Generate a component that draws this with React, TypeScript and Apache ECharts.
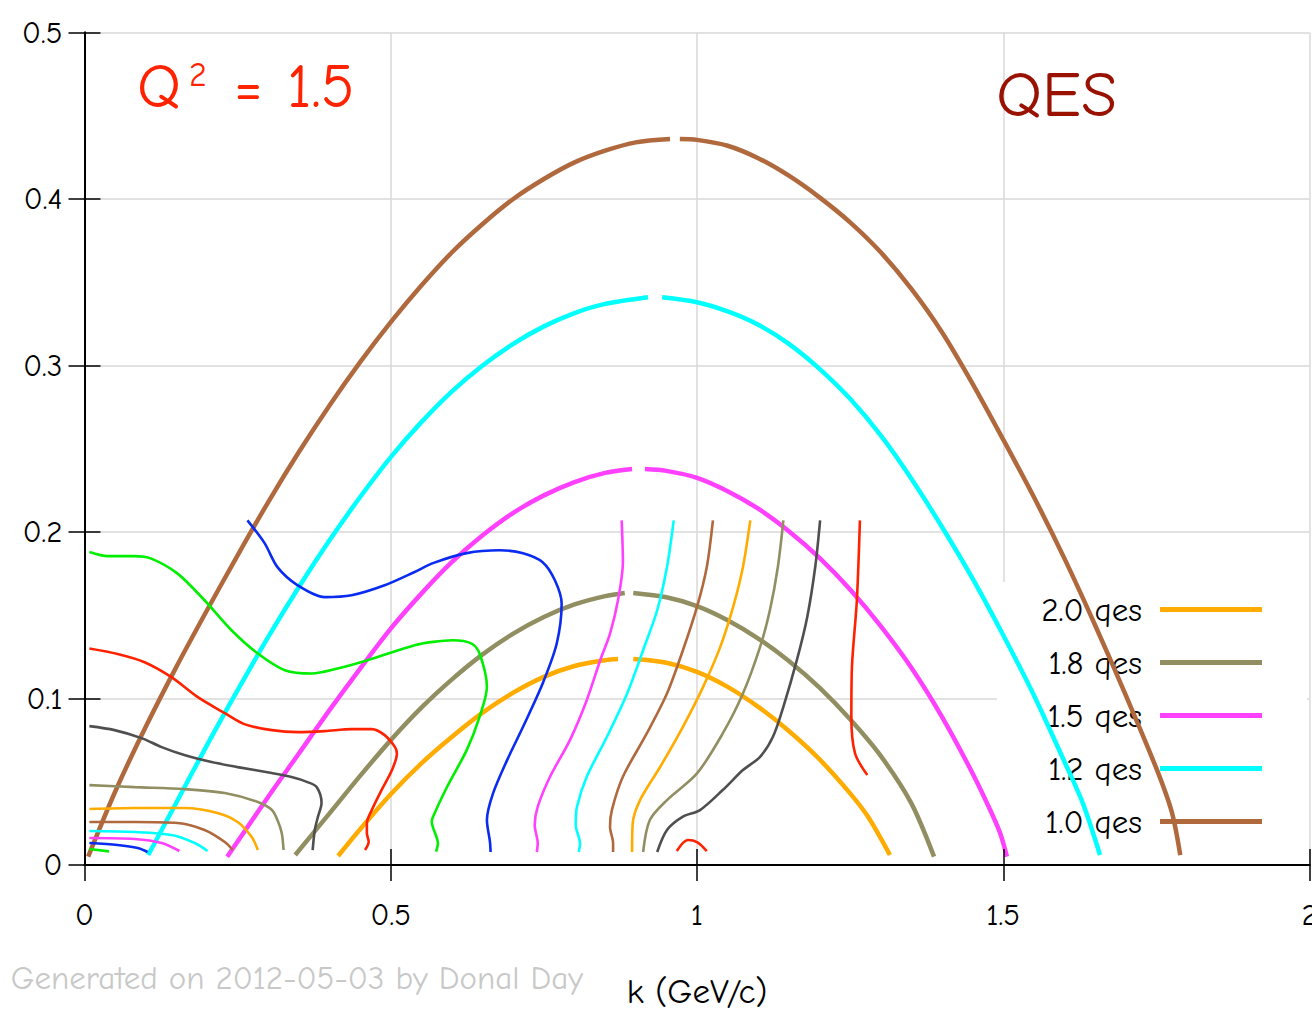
import React, { useEffect, useRef } from "react";
import * as echarts from "echarts";

const FONT = "'Comic Sans MS', 'Comic Neue', 'DejaVu Sans', sans-serif";

const xTicks = [0, 0.5, 1, 1.5, 2];
const yTicks = [0, 0.1, 0.2, 0.3, 0.4, 0.5];
const legendNames = ["2.0 qes", "1.8 qes", "1.5 qes", "1.2 qes", "1.0 qes"];

// QES curves (left half / right half, the small break at the peak)
const qes10Left = [[0.006,0.005],[0.05,0.044],[0.10,0.083],[0.15,0.119],[0.20,0.153],[0.25,0.186],[0.30,0.218],[0.35,0.248],[0.40,0.276],[0.45,0.302],[0.50,0.326],[0.55,0.348],[0.60,0.368],[0.65,0.385],[0.70,0.400],[0.75,0.412],[0.80,0.422],[0.85,0.429],[0.90,0.434],[0.956,0.436]];
const qes10Right = [[0.972,0.436],[1.00,0.4355],[1.05,0.432],[1.10,0.4245],[1.15,0.414],[1.20,0.401],[1.25,0.386],[1.30,0.368],[1.35,0.346],[1.40,0.320],[1.45,0.289],[1.50,0.2555],[1.55,0.221],[1.60,0.184],[1.65,0.144],[1.70,0.102],[1.75,0.058],[1.775,0.032],[1.789,0.006]];
const qes12Left = [[0.104,0.006],[0.15,0.0375],[0.20,0.072],[0.25,0.105],[0.30,0.137],[0.35,0.167],[0.40,0.195],[0.45,0.221],[0.50,0.245],[0.55,0.266],[0.60,0.2845],[0.65,0.300],[0.70,0.313],[0.75,0.3235],[0.80,0.3315],[0.85,0.337],[0.92,0.341]];
const qes12Right = [[0.943,0.341],[1.00,0.338],[1.05,0.3325],[1.10,0.3245],[1.15,0.313],[1.20,0.298],[1.25,0.280],[1.30,0.258],[1.35,0.232],[1.40,0.203],[1.45,0.172],[1.50,0.138],[1.55,0.102],[1.60,0.062],[1.63,0.037],[1.658,0.006]];
const qes15Left = [[0.233,0.005],[0.30,0.041],[0.35,0.067],[0.40,0.093],[0.45,0.118],[0.50,0.142],[0.55,0.163],[0.60,0.182],[0.65,0.198],[0.70,0.2115],[0.75,0.222],[0.80,0.230],[0.85,0.2355],[0.894,0.2378]];
const qes15Right = [[0.915,0.2378],[0.95,0.2367],[1.00,0.2325],[1.05,0.2245],[1.10,0.214],[1.15,0.2005],[1.20,0.1845],[1.25,0.1655],[1.30,0.1435],[1.35,0.1185],[1.40,0.089],[1.45,0.055],[1.48,0.032],[1.495,0.019],[1.506,0.005]];
const qes18Left = [[0.344,0.006],[0.40,0.031],[0.45,0.0535],[0.50,0.075],[0.55,0.0945],[0.60,0.1115],[0.65,0.1265],[0.70,0.139],[0.75,0.149],[0.80,0.1565],[0.85,0.1615],[0.882,0.1634]];
const qes18Right = [[0.896,0.1634],[0.95,0.1608],[1.00,0.1555],[1.05,0.147],[1.10,0.136],[1.15,0.1225],[1.20,0.1065],[1.25,0.0875],[1.30,0.0655],[1.35,0.037],[1.387,0.005]];
const qes20Left = [[0.414,0.0054],[0.45,0.0215],[0.50,0.0425],[0.55,0.061],[0.60,0.077],[0.65,0.0915],[0.70,0.1035],[0.75,0.113],[0.80,0.1195],[0.85,0.123],[0.871,0.1237]];
const qes20Right = [[0.896,0.1237],[0.95,0.1215],[1.00,0.116],[1.05,0.107],[1.10,0.095],[1.15,0.0805],[1.20,0.0635],[1.25,0.043],[1.28,0.0285],[1.315,0.006]];

// contour lines
const greenBig = [[0.008,0.188],[0.038,0.1855],[0.082,0.1855],[0.109,0.184],[0.152,0.175],[0.196,0.159],[0.240,0.141],[0.283,0.127],[0.327,0.117],[0.371,0.115],[0.413,0.118],[0.462,0.123],[0.539,0.132],[0.569,0.134],[0.601,0.135],[0.632,0.133],[0.645,0.127],[0.657,0.107],[0.645,0.089],[0.624,0.069],[0.592,0.047],[0.569,0.029],[0.567,0.026],[0.577,0.013],[0.574,0.008]];
const redLeft = [[0.008,0.130],[0.054,0.1267],[0.098,0.1218],[0.142,0.1128],[0.185,0.1008],[0.229,0.0912],[0.261,0.0846],[0.306,0.081],[0.348,0.0798],[0.392,0.0804],[0.436,0.0816],[0.469,0.0816],[0.490,0.078],[0.507,0.0708],[0.510,0.067],[0.502,0.057],[0.485,0.045],[0.469,0.033],[0.461,0.025],[0.461,0.019],[0.464,0.014],[0.458,0.009]];
const grayLeft = [[0.008,0.0834],[0.049,0.081],[0.093,0.0762],[0.126,0.0708],[0.163,0.066],[0.2075,0.0618],[0.250,0.0588],[0.3056,0.0552],[0.338,0.0528],[0.364,0.0498],[0.379,0.0468],[0.387,0.0372],[0.381,0.0288],[0.376,0.021],[0.3725,0.009]];
const oliveLeft = [[0.008,0.048],[0.082,0.0468],[0.163,0.0456],[0.229,0.0432],[0.283,0.0378],[0.306,0.033],[0.315,0.027],[0.322,0.0192],[0.325,0.009]];
const orangeLeft = [[0.008,0.0336],[0.082,0.0342],[0.163,0.0342],[0.217,0.0312],[0.250,0.0258],[0.273,0.0168],[0.283,0.009]];
const brownLeft = [[0.008,0.0258],[0.082,0.0258],[0.152,0.0252],[0.196,0.021],[0.229,0.0138],[0.242,0.009]];
const cyanLeft = [[0.008,0.0204],[0.082,0.0198],[0.142,0.018],[0.180,0.0132],[0.201,0.0084]];
const magentaLeft = [[0.008,0.0162],[0.082,0.0156],[0.126,0.0132],[0.155,0.0084]];
const blueLeft = [[0.008,0.0132],[0.054,0.012],[0.087,0.0102],[0.103,0.0078]];
const greenSmall = [[0.008,0.0096],[0.040,0.0082]];
const blueBig = [[0.266,0.207],[0.294,0.1933],[0.315,0.1789],[0.348,0.168],[0.392,0.1609],[0.436,0.162],[0.490,0.168],[0.539,0.176],[0.569,0.1813],[0.624,0.1873],[0.678,0.189],[0.716,0.1873],[0.748,0.1819],[0.768,0.171],[0.779,0.157],[0.771,0.133],[0.748,0.109],[0.716,0.083],[0.690,0.063],[0.667,0.043],[0.657,0.027],[0.662,0.0138],[0.663,0.0078]];
const magentaV = [[0.877,0.207],[0.879,0.182],[0.871,0.159],[0.858,0.139],[0.842,0.123],[0.820,0.099],[0.7925,0.075],[0.760,0.053],[0.740,0.035],[0.735,0.024],[0.740,0.013],[0.7385,0.0078]];
const cyanV = [[0.962,0.207],[0.951,0.179],[0.935,0.153],[0.912,0.129],[0.886,0.103],[0.853,0.077],[0.820,0.053],[0.804,0.035],[0.802,0.024],[0.809,0.013],[0.807,0.0078]];
const brownV = [[1.026,0.207],[1.016,0.179],[1.000,0.155],[0.977,0.129],[0.951,0.103],[0.918,0.079],[0.879,0.053],[0.861,0.033],[0.858,0.023],[0.863,0.013],[0.863,0.0078]];
const orangeV = [[1.087,0.207],[1.075,0.179],[1.059,0.155],[1.038,0.131],[1.010,0.107],[0.977,0.083],[0.940,0.059],[0.907,0.039],[0.895,0.025],[0.894,0.0078]];
const oliveV = [[1.141,0.207],[1.132,0.179],[1.119,0.153],[1.103,0.131],[1.075,0.103],[1.042,0.079],[1.000,0.055],[0.951,0.039],[0.923,0.027],[0.912,0.0078]];
const grayV = [[1.201,0.207],[1.193,0.179],[1.180,0.149],[1.163,0.123],[1.141,0.095],[1.124,0.077],[1.103,0.065],[1.075,0.057],[1.042,0.045],[1.005,0.033],[0.977,0.029],[0.951,0.021],[0.935,0.0078]];
const redV = [[1.266,0.207],[1.261,0.159],[1.253,0.119],[1.252,0.089],[1.258,0.067],[1.278,0.054]];
const redBump = [[0.967,0.0084],[0.985,0.015],[1.000,0.0138],[1.016,0.0084]];

const C = {
  brown: "#b0683d",
  cyan: "#00ffff",
  magenta: "#ff40ff",
  olive: "#918f62",
  orange: "#ffab00",
  green: "#00ee00",
  red: "#ff2200",
  gray: "#4f4f4f",
  blue: "#0a2cf0",
};

function mk(name: string | undefined, data: number[][], color: string, width: number) {
  return {
    type: "line",
    name,
    data,
    showSymbol: false,
    symbol: "none",
    smooth: 0.3,
    z: 3,
    silent: true,
    color,
    itemStyle: { color },
    lineStyle: { color, width, cap: "butt" },
  };
}

export default function App() {
  const ref = useRef<HTMLDivElement>(null);
  useEffect(() => {
    document.body.style.margin = "0";
    const chart = echarts.init(ref.current!, undefined, { renderer: "svg", width: 1312, height: 1013 });
    const QW = 4.5;
    const CW = 2.6;
    const series = [
      mk("1.0 qes", qes10Left, C.brown, QW),
      mk("1.0 qes", qes10Right, C.brown, QW),
      mk("1.2 qes", qes12Left, C.cyan, QW),
      mk("1.2 qes", qes12Right, C.cyan, QW),
      mk("1.5 qes", qes15Left, C.magenta, QW),
      mk("1.5 qes", qes15Right, C.magenta, QW),
      mk("1.8 qes", qes18Left, C.olive, QW),
      mk("1.8 qes", qes18Right, C.olive, QW),
      mk("2.0 qes", qes20Left, C.orange, QW),
      mk("2.0 qes", qes20Right, C.orange, QW),
      mk(undefined, greenBig, C.green, CW),
      mk(undefined, redLeft, C.red, CW),
      mk(undefined, grayLeft, C.gray, CW),
      mk(undefined, oliveLeft, C.olive, CW),
      mk(undefined, orangeLeft, C.orange, CW),
      mk(undefined, brownLeft, C.brown, CW),
      mk(undefined, cyanLeft, C.cyan, CW),
      mk(undefined, magentaLeft, C.magenta, CW),
      mk(undefined, blueLeft, C.blue, CW),
      mk(undefined, greenSmall, C.green, CW),
      mk(undefined, blueBig, C.blue, CW),
      mk(undefined, magentaV, C.magenta, CW),
      mk(undefined, cyanV, C.cyan, CW),
      mk(undefined, brownV, C.brown, CW),
      mk(undefined, orangeV, C.orange, CW),
      mk(undefined, oliveV, C.olive, CW),
      mk(undefined, grayV, C.gray, CW),
      mk(undefined, redV, C.red, CW),
      mk(undefined, redBump, C.red, CW),
    ];
    const axisLine = { show: true, lineStyle: { color: "#000", width: 2 } };
    const tick = { show: true, inside: true, length: 16, lineStyle: { color: "#000", width: 1.5 } };
    const split = { show: true, lineStyle: { color: "#d9d9d9", width: 1.5 } };
    chart.setOption({
      animation: false,
      backgroundColor: "#fff",
      grid: { left: 84.5, right: 2.5, top: 32.5, bottom: 148, containLabel: false, outerBoundsMode: "none" },
      xAxis: [
        {
          type: "value", position: "bottom", min: xTicks[0], max: xTicks[xTicks.length - 1], interval: 0.5, z: 4,
          axisLine, axisTick: tick, splitLine: { show: false },
          axisLabel: { show: true, color: "#000", fontSize: 31, fontFamily: FONT, margin: 34 },
          name: "k (GeV/c)", nameLocation: "middle", nameGap: 109,
          nameTextStyle: { color: "#000", fontSize: 35, fontFamily: FONT },
        },
        {
          type: "value", position: "top", min: xTicks[0], max: xTicks[xTicks.length - 1], interval: 0.5, z: 0,
          axisLine, axisTick: tick, splitLine: split, axisLabel: { show: false },
        },
      ],
      yAxis: [
        {
          type: "value", position: "left", min: yTicks[0], max: yTicks[yTicks.length - 1], interval: 0.1, z: 0,
          axisLine, axisTick: tick, splitLine: split,
          axisLabel: { show: true, color: "#000", fontSize: 31, fontFamily: FONT, margin: 22 },
        },
        {
          type: "value", position: "right", min: yTicks[0], max: yTicks[yTicks.length - 1], interval: 0.1, z: 4,
          axisLine, axisTick: tick, splitLine: { show: false }, axisLabel: { show: false },
        },
      ],
      legend: {
        data: legendNames,
        orient: "vertical",
        right: 45,
        top: 588,
        align: "right",
        icon: "rect",
        itemWidth: 102,
        itemHeight: 5,
        itemGap: 20,
        selectedMode: false,
        z: 2,
        textStyle: { color: "#000", fontSize: 33, fontFamily: FONT, lineHeight: 30, padding: [0, 13, 0, 0] },
      },
      graphic: [
        {
          type: "rect", z: 1, silent: true,
          shape: { x: 997, y: 582, width: 310, height: 282 },
          style: { fill: "#fff" },
        },
        {
          type: "text", z: 10, left: 137, top: 56,
          style: { text: "Q", fill: C.red, fontSize: 62, fontFamily: FONT },
        },
        {
          type: "text", z: 10, left: 189, top: 58,
          style: { text: "2", fill: C.red, fontSize: 34, fontFamily: FONT },
        },
        {
          type: "text", z: 10, left: 234, top: 56,
          style: { text: "=", fill: C.red, fontSize: 62, fontFamily: FONT },
        },
        {
          type: "text", z: 10, left: 287, top: 56,
          style: { text: "1.5", fill: C.red, fontSize: 62, fontFamily: FONT },
        },
        {
          type: "text", z: 10, left: 996, top: 62,
          style: { text: "QES", fill: "#991100", fontSize: 65, fontFamily: FONT },
        },
        {
          type: "text", z: 10, right: 1312 - 583, top: 961,
          style: { text: "Generated on 2012-05-03 by Donal Day", fill: "#c8c8c8", fontSize: 33, fontFamily: FONT },
        },
      ],
      series,
    });
    return () => chart.dispose();
  }, []);
  return (
    <div
      ref={ref}
      style={{ position: "fixed", left: 0, top: 0, width: 1312, height: 1013, background: "#fff" }}
    />
  );
}
